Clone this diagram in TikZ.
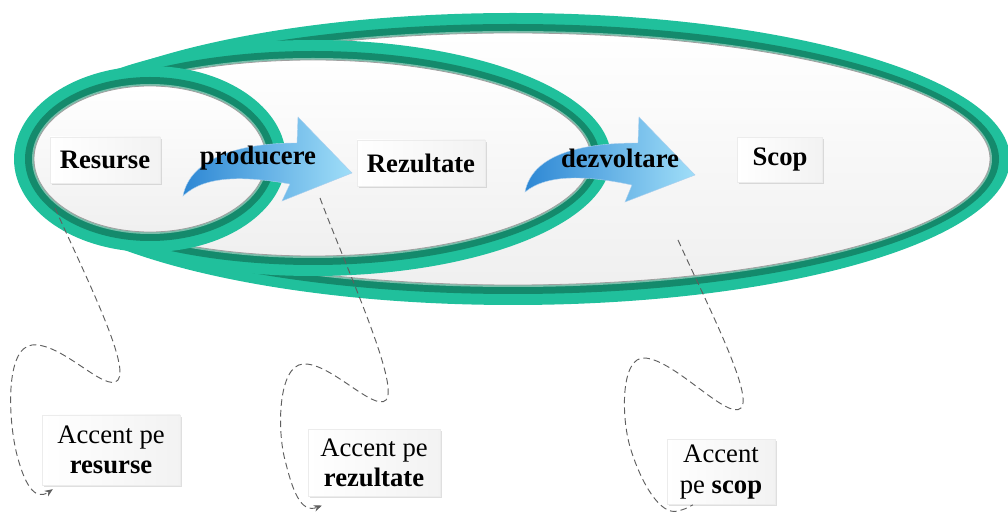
\documentclass[tikz,border=0pt]{standalone}
\usepackage{fontspec}
\setmainfont{Liberation Serif}
\usetikzlibrary{arrows.meta,shadows}
\definecolor{tealL}{RGB}{32,192,156}
\definecolor{tealD}{RGB}{20,138,108}
\definecolor{tealE}{RGB}{120,190,170}
\definecolor{arrDark}{RGB}{45,135,212}
\definecolor{arrLight}{RGB}{160,222,248}
\definecolor{dashgray}{RGB}{95,95,95}
\newcommand\ringell[4]{%
  \fill[tealL] (#1,#2) ellipse [x radius=#3, y radius=#4];
  \fill[tealD] (#1,#2) ellipse [x radius=#3-11, y radius=#4-11];
  \fill[tealE] (#1,#2) ellipse [x radius=#3-18, y radius=#4-18];
  \shade[top color=white, bottom color=gray!12, draw=gray!75, line width=0.6pt]
    (#1,#2) ellipse [x radius=#3-20, y radius=#4-20];
}
\tikzset{
  txtbox/.style={rectangle, left color=white, right color=gray!10,
    draw=gray!15, line width=0.3pt,
    drop shadow={shadow xshift=1.2pt, shadow yshift=-1.2pt, opacity=0.25, fill=gray},
    align=center, inner sep=0pt, font=\fontsize{20}{23}\selectfont},
  arrlabel/.style={font=\fontsize{20}{23}\selectfont\bfseries, inner sep=0pt},
  arrshape/.style={left color=arrDark, right color=arrLight, draw=arrDark!40, line width=0.3pt},
  dashline/.style={draw=dashgray, line width=0.7pt, dash pattern=on 5pt off 3pt},
  tip/.style={-{Stealth[length=6pt,width=5pt]}}
}
\begin{document}
\begin{tikzpicture}[x=0.75pt,y=-0.75pt]
\useasboundingbox (0,0) rectangle (1008,513);
% rings
\ringell{513}{159}{497}{146}
\ringell{313}{158}{298}{118}
\ringell{150}{159}{136}{93}
% boxes in rings
\node[txtbox, minimum width=82.5pt, minimum height=34.5pt] (res) at (105,160) {\textbf{Resurse}};
\node[txtbox, minimum width=96pt, minimum height=34.5pt] (rez) at (421,163) {\textbf{Rezultate}};
\node[txtbox, minimum width=64pt, minimum height=34pt] (scop) at (780,160) {\textbf{Scop}};
% curved arrows
\shade[arrshape] (183,196) .. controls (190,160) and (235,143) .. (297,143) -- (298,117) -- (352,173) -- (282,201) -- (290,184) .. controls (245,176) and (205,175) .. (183,196) -- cycle;
\node[arrlabel] (prod) at (258,158) {producere};
\shade[arrshape] (525,192) .. controls (532,156) and (577,143) .. (638,143) -- (639,117) -- (695,175) -- (625,202) -- (632,185) .. controls (590,176) and (548,173) .. (525,192) -- cycle;
\node[arrlabel] (dezv) at (620,158) {dezvoltare};
% accent boxes
\node[txtbox, minimum width=103.5pt, minimum height=52.5pt] (acc1) at (111,450) {Accent pe\\\textbf{resurse}};
\node[txtbox, minimum width=99pt, minimum height=50pt] (acc2) at (374,463) {Accent pe\\\textbf{rezultate}};
\node[txtbox, minimum width=81pt, minimum height=49pt] (acc3) at (721,472) {Accent\\pe \textbf{scop}};
% dashed connectors
\coordinate (d1s) at (55,208);
\coordinate (d2s) at (320,198);
\coordinate (d3s) at (678,240);
\draw[dashline, tip] (d1s) .. controls (85,275) and (130,365) .. (118,380)
  .. controls (106,394) and (62,342) .. (32,345)
  .. controls (5,348) and (8,420) .. (17,455)
  .. controls (24,482) and (34,502) .. ([shift={(11,4)}]acc1.south west);
\draw[dashline, tip] (d2s) .. controls (345,265) and (400,385) .. (386,400)
  .. controls (374,412) and (330,362) .. (303,364)
  .. controls (278,366) and (277,430) .. (285,460)
  .. controls (292,488) and (300,514) .. ([shift={(14,9)}]acc2.south west);
\draw[dashline] (d3s) .. controls (705,300) and (754,395) .. (741,408)
  .. controls (728,421) and (675,360) .. (645,358)
  .. controls (620,356) and (621,420) .. (631,450)
  .. controls (641,482) and (660,516) .. (678,511)
  .. controls (685,509) .. ([shift={(26,0)}]acc3.south west);
\end{tikzpicture}
\end{document}
